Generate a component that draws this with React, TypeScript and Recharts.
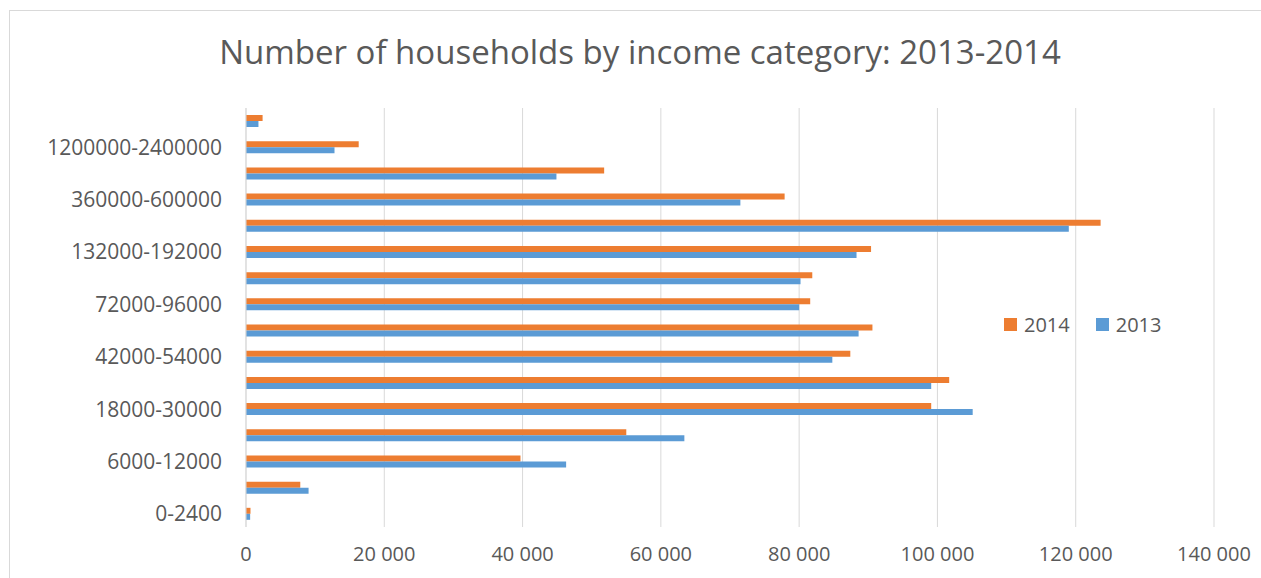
import React from 'react';
import { BarChart, Bar, XAxis, YAxis, CartesianGrid, Legend } from 'recharts';

const categories = [
  '0-2400', '2400-6000', '6000-12000', '12000-18000', '18000-30000', '30000-42000',
  '42000-54000', '54000-72000', '72000-96000', '96000-132000', '132000-192000',
  '192000-360000', '360000-600000', '600000-1200000', '1200000-2400000', '2400000+',
];
const values2014 = [650, 7850, 39700, 55000, 99100, 101700, 87400, 90600, 81600, 81900, 90400, 123600, 77900, 51800, 16300, 2400];
const values2013 = [600, 9050, 46300, 63400, 105100, 99100, 84800, 88600, 80000, 80200, 88300, 119000, 71500, 44900, 12800, 1800];
const xTicks = [0, 20000, 40000, 60000, 80000, 100000, 120000, 140000];
const seriesNames = ['2014', '2013'];
const seriesColors = ['#ED7D31', '#5B9BD5'];

const data = categories.map((c, i) => ({ category: c, y2014: values2014[i], y2013: values2013[i] }));

const FONT = '"Open Sans", sans-serif';
const TEXT = '#595959';
const fmt = (v: number) => String(v).replace(/\B(?=(\d{3})+(?!\d))/g, ' ');

const LegendContent = () => (
  <div style={{ display: 'flex', alignItems: 'center', fontFamily: FONT, fontSize: 20, color: TEXT }}>
    {seriesNames.map((n, i) => (
      <div key={n} style={{ display: 'flex', alignItems: 'center', marginRight: i === 0 ? 26 : 0 }}>
        <div style={{ width: 13, height: 13, background: seriesColors[i], marginRight: 7 }} />
        <span>{n}</span>
      </div>
    ))}
  </div>
);

export default function App() {
  return (
    <div style={{ position: 'absolute', left: 0, top: 0, width: 1261, height: 578, overflow: 'hidden', background: '#fff' }}>
      <div style={{ position: 'absolute', left: 9, top: 10, width: 1400, height: 700, border: '1px solid #d9d9d9' }} />
      <div style={{ position: 'absolute', left: 0, top: 29, width: 1280, textAlign: 'center', fontFamily: FONT, fontSize: 33, color: TEXT, lineHeight: '46px' }}>
        Number of households by income category: 2013-2014
      </div>
      <div style={{ position: 'absolute', left: 0, top: 0 }}>
        <BarChart width={1261} height={578} data={data} layout="vertical"
          margin={{ top: 108, right: 47, bottom: 0, left: 0 }} barGap={0} barSize={6}>
          <CartesianGrid horizontal={false} vertical={true} stroke="#d9d9d9" />
          <XAxis type="number" domain={[0, 140000]} ticks={xTicks} tickFormatter={fmt}
            axisLine={false} tickLine={false} tickSize={0} tickMargin={20} height={51}
            tick={{ fill: TEXT, fontFamily: FONT, fontSize: 20 }} />
          <YAxis type="category" dataKey="category" reversed interval={1} width={246}
            axisLine={{ stroke: '#d9d9d9' }} tickLine={false} tickSize={0} tickMargin={24}
            tick={{ fill: TEXT, fontFamily: FONT, fontSize: 21 }} />
          <Legend content={<LegendContent />} layout="vertical" align="center" verticalAlign="middle"
            wrapperStyle={{ position: 'absolute', left: 1004, top: 311, width: 200 }} />
          <Bar dataKey="y2014" name="2014" fill={seriesColors[0]} isAnimationActive={false} />
          <Bar dataKey="y2013" name="2013" fill={seriesColors[1]} isAnimationActive={false} />
        </BarChart>
      </div>
    </div>
  );
}
